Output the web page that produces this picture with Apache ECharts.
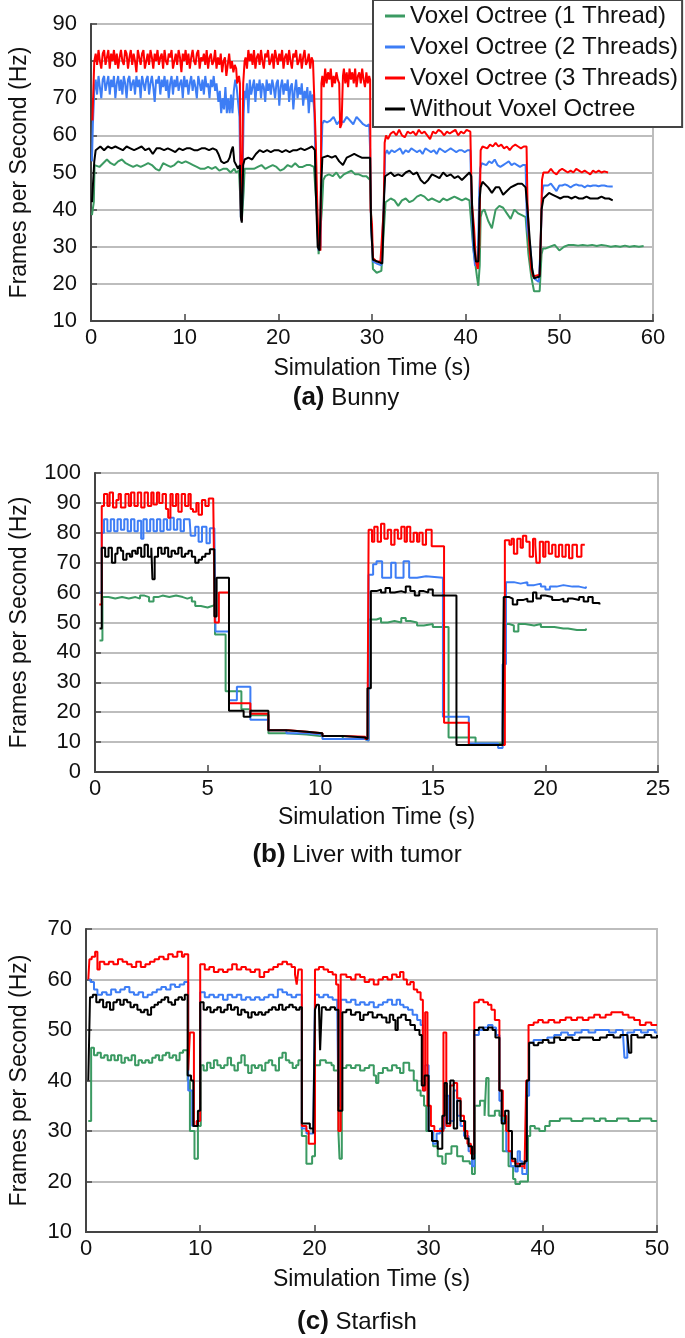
<!DOCTYPE html>
<html><head><meta charset="utf-8">
<script src="https://cdn.jsdelivr.net/npm/echarts@6/dist/echarts.min.js"></script>
<style>html,body{margin:0;padding:0;background:#fff}#c{width:685px;height:1338px}</style>
</head><body><div id="c"></div>
<script>
// ---- data: points are [time, fps]; runs are [startTime, step, [fps values]] ----
const seriesNames = ['Voxel Octree (1 Thread)','Voxel Octree (2 Threads)','Voxel Octree (3 Threads)','Without Voxel Octree'];
const panelTitles = [['(a)','Bunny'],['(b)','Liver with tumor'],['(c)','Starfish']];

// (a) Bunny
const bunny1T = [[0.1,38.5],[0.25,38.5],[0.3,42],[0.38,52],[0.5,0.4,[52,51.5,52.5,53.5,52.5,52,53,53.5,52.5,52,51.5,52,51.5,52,52.5,52,51,50.5,52.5,52,51.5,52,53,52.5,53,52.5,52,51.5,51,51,51.5,51,51.5,50.5,51,51,50,51]],[15.5,50],[15.8,50.5],[16.0,40],[16.1,37],[16.3,45],[16.4,51],[16.6,0.4,[50.5,51,51,51.5,52,51,51.5,52,51.5,50.5,51,52,51.5,52.5,51.5,51.5,52,52,51.5]],[23.95,51],[24.1,40],[24.3,28],[24.5,27.5],[24.65,40],[24.8,48],[25.0,0.4,[49,49.5,49,50,48.5,49.5,50,50.5,49.5,49.5,49,49]],[29.8,48],[29.95,35],[30.1,24],[30.5,23],[31.0,23.5],[31.2,23],[31.3,36],[31.45,42],[31.6,0.4,[42,43,42.5,41,42.5,43,42,42.5,43.5,44,43.5,42.5,43,42.5,42,43,42.5,43,43.5,43,42.5,43,42.5]],[40.6,42],[40.8,30],[41.2,22],[41.35,19.5],[41.5,25],[41.6,38],[41.75,39.5],[42.0,0.4,[40,37,35,40,41,40.5,39,37.5,40,39,38.5,38]],[46.5,38],[46.7,28],[47.0,22],[47.3,18],[47.9,18],[48.1,28],[48.25,29.5],[48.5,0.5,[29.5,30,30.5,29,30,30.5,30.5,30.3,30.5,30.3,30.5,30.2,30.5,30.3,30,30.2,30,30.3,30,30.2,30,30.2]]];
const bunny2T = [[0.1,53],[0.2,63],[0.35,72],[0.5,0.15,[75,71,76,73,70,75,76,72,74,76,71,75,73,76,70,74,76,72,75,71,76,74,70,75,76,72,74,75,71,76,73,75,70,76,74,72,75,76,71,74,76,73,69,75,74,76,71,75,73,76,72,75,70,74,76,71,75,73,76,72,74,75,70,76,73,75,71,74,76,72,75,73,70,76,74,72,75,71,76,73,74,70,75,73,76,72,74]],[13.6,69],[13.75,72],[13.9,66],[14.05,70],[14.2,67],[14.35,73],[14.5,66],[14.65,70],[14.8,66],[14.95,71],[15.1,66],[15.25,72],[15.4,75],[15.55,73],[15.7,69],[15.85,65],[16.0,38],[16.1,37],[16.3,66],[16.4,72],[16.5,0.15,[70,74,66,75,71,73,75,69,74,72,75,70,74,73,69,75,72,74,71,75,73,70,74,75,68,73,75,71,74,72,75,69,73,74,67,72,75,70,73,71,74,68,72,70,73,66,72,69,71]],[23.85,66],[24.0,50],[24.15,36],[24.3,29],[24.5,30],[24.6,55],[24.7,63],[24.85,0.35,[64,63.5,64,65,63,64,63.5,65,64,63,65,64,63,62.5]],[29.7,63],[29.8,56],[29.9,36],[30.1,26],[30.5,25.5],[31.0,25],[31.2,24.5],[31.3,45],[31.4,55],[31.6,56],[31.8,0.3,[55,56,55.5,56,56.5,55,56,55.5,56.5,56,55.5,56,55,56.5,56,55.5,56,55,56.5,56,55.5,56,56.5,56,55.5,56,56,55.5,56]],[40.5,56],[40.6,44],[40.8,30],[41.0,25],[41.3,25],[41.45,45],[41.55,51],[41.7,52.5],[41.9,0.3,[52.5,52,53,52.5,53.5,52,51.5,52,52.5,53,52,52.5,52,51.5,52]],[46.4,52],[46.55,35],[46.9,30],[47.1,24],[47.3,21.5],[47.8,20.5],[48.0,30],[48.15,44],[48.3,46.5],[48.5,0.3,[47,46.5,47,46,45,46.5,46.5,46.8,46.5,46,46.5,46.8,46.5,46.5,46,46.5,46.3,46.5,46.5,46.3,46.5,46.5,46.3,46.2]],[55.7,46.2]];
const bunny3T = [[0.15,64],[0.35,80],[0.5,0.15,[82,79,83,80,78,82,83,79,81,83,78,82,80,83,79,82,78,81,83,80,79,83,82,78,81,83,79,82,80,77,83,81,79,82,83,78,80,82,79,83,81,78,82,80,83,79,81,82,78,83,80,79,82,81,83,78,80,82,79,83,81,77,82,80,83,79,82,78,81,83,80,79,82,83,78,81,80,82,79,83,78,81,82,79,80,83,78,81,79,82,77,80,81,76,79,82,78,80,77,79,78]],[15.6,74],[15.8,76],[15.9,74],[16.0,40],[16.1,37],[16.25,74],[16.4,80],[16.5,0.15,[81,78,83,80,82,79,83,78,81,82,79,83,80,78,82,81,83,79,80,82,78,83,81,79,82,80,83,78,81,82,79,83,80,78,82,81,83,79,80,82,78,81,83,79,80,82,78,81,80]],[23.85,80],[24.0,58],[24.15,42],[24.3,30],[24.5,29],[24.6,74],[24.7,0.15,[76,73,78,74,77,75,78,73,76,74,77,75,74]],[26.6,62],[26.75,63],[26.9,76],[27.0,0.15,[78,74,77,73,78,75,77,74,78,73,76,77,74,78,75,73,77,74,76]],[29.8,75],[29.85,40],[30.0,36],[30.1,27],[30.5,26],[30.9,26],[31.1,25.5],[31.25,40],[31.35,58],[31.5,60],[31.7,0.3,[59,60.5,61,60,61.5,60,59.5,61,60.5,61,60,61.5,60.5,61,60,59,61,60.5,61.5,61,60,61,60.5,61,61.5,60,61,60.5,61.5]],[40.5,61],[40.65,42],[40.9,35],[41.1,26],[41.3,24],[41.45,30],[41.6,56],[41.8,57],[42.0,0.3,[57,56.5,57.5,57,58,57,57.5,56.5,57,56,57,57.5,57,56.5,57]],[46.5,57],[46.6,42],[46.8,30],[47.0,24],[47.2,22],[47.9,22.5],[48.05,35],[48.15,48],[48.3,50],[48.5,0.3,[50.5,50,51,50,49.5,50.5,51,50.5,50,50.5,50,51,50.5,50,50.5,50,49.5,50.5,50,50.5,50,50.3]],[55.2,50]];
const bunnyNo = [[0.1,42],[0.25,42],[0.35,53],[0.5,56],[0.6,0.4,[56.5,57,56,57,56.5,57,56.5,56,57,56.5,56,56.5,57,56,56.5,55,56.5,56.5,56,56.5,56,55.5,56.5,56,56.5,56.5,56,56,56.5,56.5,56,56.5,56]],[13.6,55],[13.9,53],[14.2,52.5],[14.4,52],[14.6,53],[14.8,54],[15.0,56],[15.15,57],[15.3,53],[15.5,52],[15.7,51],[15.9,52],[16.0,38],[16.1,36.5],[16.25,52],[16.4,53.5],[16.6,53],[16.8,0.4,[54,53.5,55,56,55.5,56,55.5,56,56,55.5,56,55.5,56,56,56.5,56,56.5,57]],[23.9,56],[24.0,45],[24.2,30],[24.4,29],[24.55,45],[24.7,54],[24.9,0.4,[54.5,54.5,54,54.5,53,52,54,54.5,55,54.5,54,54]],[29.8,54],[29.9,36],[30.1,26.5],[30.6,26],[31.1,25.5],[31.3,44],[31.4,49],[31.6,0.4,[49,50,49,49.5,49,50,50.5,49.5,50,48,47,48,49.5,49,48.5,50,49,49.5,48.5,49,48,49,50]],[40.6,49],[40.7,40],[40.9,30],[41.1,26],[41.35,26],[41.5,43],[41.6,46],[41.8,47.5],[42.0,0.4,[47,46,44.5,46,46,44,45,46,46.5,47,47,46]],[46.5,46.5],[46.6,40],[46.9,30],[47.1,24],[47.3,21.5],[47.9,22],[48.1,40],[48.3,43],[48.5,0.4,[43,44.5,44,43.5,43,43.5,43.5,43,43.5,43,43,43.5,43,43,43,43.5,43,43,42.5]]];

// (b) Liver with tumor
const liver1T = [[0.2,44],[0.33,58.5],[0.6,58],[0.9,58.5],[1.2,58],[1.5,58.5],[1.8,58],[2.0,59],[2.2,58.5],[2.4,57],[2.6,58.5],[2.8,59],[3.0,58.5],[3.3,59],[3.6,58.5],[3.9,58],[4.1,58.5],[4.3,57],[4.45,55.5],[4.7,55],[5.0,55.5],[5.2,56],[5.33,46],[5.8,27],[6.5,21],[6.9,19],[7.7,13],[8.5,12.5],[9.4,12],[10.0,12],[11.0,11],[12.0,10.5],[12.15,51],[12.5,51.5],[12.7,50],[13.0,50.5],[13.3,50],[13.6,51.5],[13.8,50.5],[14.0,50],[14.3,49],[14.6,49.5],[15.0,48.5],[15.7,11.5],[16.9,9.5],[18.0,9.5],[18.15,49.5],[18.4,49],[18.6,47],[18.8,49.5],[19.1,49],[19.5,49.5],[19.8,48.5],[20.1,48.5],[20.4,48],[20.8,48],[21.0,47.5],[21.4,47.5],[21.8,48]];
const liver2T = [[0.2,60],[0.3,80],[0.4,84.5],[0.55,80.5],[0.7,84.5],[0.85,80.5],[1.0,84.5],[1.15,81],[1.3,84.5],[1.45,80.5],[1.6,84.5],[1.75,80.5],[1.9,84],[2.05,78],[2.15,84.5],[2.3,80.5],[2.45,84.5],[2.6,80.5],[2.75,84.5],[2.9,80.5],[3.05,84.5],[3.2,81],[3.35,85],[3.5,81],[3.65,84.5],[3.8,80.5],[3.95,84.5],[4.2,84],[4.25,79],[4.45,82],[4.6,77],[4.75,82],[4.95,76.5],[5.1,81.5],[5.3,81],[5.35,47],[5.85,47],[5.95,24],[6.3,28.5],[6.9,17.5],[7.7,14],[8.5,13],[9.4,12.5],[10.1,11],[11.0,11],[12.0,10.5],[12.15,66],[12.35,69.5],[12.5,70.5],[12.75,65],[13.0,65],[13.15,70],[13.35,65],[13.7,70.5],[13.95,65],[14.3,65.5],[14.7,65],[15.45,18.5],[16.6,9.5],[17.9,8],[18.1,36],[18.25,63.5],[18.6,63],[18.9,63.5],[19.2,62.5],[19.5,63],[19.8,62],[20.0,61],[20.2,62],[20.5,62.5],[20.8,62],[21.2,62],[21.5,61.5],[21.8,62]];
const liver3T = [[0.19,56],[0.3,89],[0.4,93],[0.55,89],[0.65,93.5],[0.8,88.5],[0.95,91],[1.05,93],[1.15,88.5],[1.35,93],[1.5,89],[1.6,93.5],[1.75,89],[1.9,93.5],[2.05,88.5],[2.2,93.5],[2.35,89],[2.5,93.5],[2.6,89.5],[2.75,93.5],[2.85,90],[3.0,93],[3.15,88],[3.25,85],[3.35,93],[3.45,89],[3.6,93],[3.7,87],[3.85,93],[4.0,89],[4.15,93],[4.25,88],[4.35,87],[4.5,90],[4.6,86],[4.75,91],[4.9,89],[5.05,91.5],[5.25,91],[5.32,50],[5.5,60],[5.95,23],[6.9,19.5],[7.7,14],[8.6,13.5],[9.4,13],[10.1,12],[11.0,11.8],[12.0,11],[12.1,10.5],[12.15,81],[12.3,77],[12.4,82],[12.55,77],[12.7,83],[12.85,78],[13.0,81],[13.15,76],[13.3,81],[13.45,78],[13.6,82],[13.75,77],[13.85,82],[14.0,77],[14.15,80],[14.3,77],[14.4,80],[14.55,76],[14.7,81],[14.95,75.5],[15.5,16.5],[16.6,9],[18.0,9],[18.2,77.5],[18.4,76],[18.5,78],[18.6,73],[18.75,78],[18.9,75],[19.0,79],[19.15,77],[19.3,72],[19.45,78],[19.55,76],[19.6,70],[19.75,77],[19.9,72],[20.0,77],[20.15,73],[20.3,76],[20.45,72],[20.6,76],[20.75,72],[20.9,76],[21.05,71.5],[21.2,76],[21.4,72],[21.6,76],[21.75,76]];
const liverNo = [[0.2,48],[0.3,75],[0.45,72],[0.6,75],[0.75,70],[0.9,73],[1.0,75],[1.15,74],[1.25,71],[1.4,73],[1.55,72],[1.65,74],[1.8,73],[1.9,75],[2.05,72],[2.2,76],[2.35,72],[2.5,75],[2.55,64.5],[2.65,72],[2.8,75],[2.95,73],[3.1,75],[3.25,72],[3.4,74],[3.55,73],[3.7,75],[3.85,72],[4.0,73],[4.15,74],[4.3,72],[4.45,70],[4.6,71],[4.75,72],[4.9,73],[5.1,74.5],[5.3,52],[5.4,65],[5.95,20.5],[6.6,18.5],[6.9,20.5],[7.7,14],[8.5,13.5],[9.4,13],[10.1,12],[11.0,11.5],[12.0,11],[12.1,28],[12.25,60.5],[12.5,61],[12.7,60],[12.9,61.5],[13.1,60],[13.3,60.5],[13.6,60],[13.8,62],[14.0,60.5],[14.2,59],[14.4,60.5],[14.6,60],[14.8,61],[15.0,59],[16.05,9],[18.0,9],[18.1,14],[18.15,58.5],[18.4,58],[18.55,56],[18.75,57.5],[19.0,58],[19.2,57],[19.45,60],[19.6,58],[19.8,59],[20.0,58.5],[20.3,57.5],[20.6,58],[20.8,57],[21.0,58],[21.2,57.5],[21.5,58.5],[21.7,57],[21.9,58.5],[22.1,56.5],[22.4,56]];

// (c) Starfish
const star1T = [[0.2,32],[0.45,46.5],[0.7,45],[1.0,45.5],[1.3,44.5],[1.6,45],[1.9,44],[2.2,45],[2.5,44],[2.8,45],[3.1,43.5],[3.4,44.5],[3.7,44],[4.0,45],[4.3,43],[4.6,44],[4.9,43.5],[5.2,44],[5.5,43.5],[5.8,44.5],[6.1,45],[6.4,44],[6.7,45],[7.0,45.5],[7.3,44.5],[7.6,45],[7.9,44],[8.2,45.5],[8.5,46],[8.9,40],[9.1,30],[9.5,24.5],[9.8,31],[10.05,43],[10.3,42],[10.6,43.5],[10.9,42.5],[11.2,44],[11.5,43],[11.8,42.5],[12.1,43],[12.4,44.5],[12.7,43],[13.0,42],[13.3,43.5],[13.6,45],[13.9,43],[14.2,41.5],[14.5,43],[14.8,42.5],[15.1,43],[15.4,42],[15.7,43.5],[16.0,44],[16.3,43],[16.6,42],[16.9,44.5],[17.2,45.5],[17.5,44],[17.8,43.5],[18.1,42.5],[18.4,43],[18.6,44],[18.9,29],[19.3,23.5],[19.8,25],[20.05,43],[20.5,44],[21.0,43.5],[21.5,43],[21.7,42],[22.1,30],[22.2,24.5],[22.4,42.5],[22.8,43],[23.2,42.5],[23.6,43],[24.0,42],[24.4,42.5],[24.8,43],[25.2,41],[25.4,39.5],[25.6,41.5],[26.0,42.5],[26.4,42],[26.8,43],[27.2,42.5],[27.5,41.5],[27.8,43.5],[28.3,42],[28.7,40],[29.0,38],[29.3,37],[29.6,35],[29.8,30],[30.4,27],[30.8,25],[31.2,23.5],[31.5,25.5],[32.0,27],[32.5,25],[33.0,24],[33.6,23.5],[33.8,21.5],[34.05,35],[34.5,36],[34.9,33],[35.05,40.5],[35.25,33],[35.8,34],[36.2,33],[36.5,26],[37.0,23],[37.4,20.5],[37.6,19.5],[38.0,20],[38.7,29],[38.9,31],[39.3,30.5],[39.7,30],[40.2,31],[40.6,32],[41.5,32.5],[42.5,32],[43.5,32.5],[44.5,32],[45.0,32.5],[45.5,32],[46.5,32.5],[47.5,32],[48.5,32.5],[49.5,32],[50.0,32]];
const star2T = [[0.2,60],[0.4,59.5],[0.7,58],[1.0,57],[1.4,57.5],[1.8,57],[2.2,58],[2.6,57.5],[3.0,58],[3.4,58.5],[3.8,57.5],[4.2,57],[4.6,57.5],[5.0,56.5],[5.4,57],[5.8,57.5],[6.2,58],[6.6,58.5],[7.0,58],[7.4,59],[7.8,58.5],[8.2,59],[8.6,59.5],[8.95,38],[9.3,31],[9.7,32],[10.0,57.5],[10.4,56.5],[10.8,57],[11.2,56.5],[11.6,57],[12.0,56],[12.4,57],[12.8,56.5],[13.2,57],[13.6,56],[14.0,56.5],[14.4,56],[14.8,56.5],[15.2,56],[15.6,56.5],[16.0,57],[16.4,56.5],[16.8,58],[17.2,57.5],[17.6,57],[18.0,56.5],[18.4,57],[18.6,57],[18.9,30.5],[19.3,29.5],[19.9,30],[20.05,57],[20.4,56.5],[20.8,57],[21.2,56.5],[21.6,56],[22.0,55],[22.1,35],[22.3,56],[22.8,55.5],[23.2,56],[23.6,55],[24.0,55.5],[24.4,55],[24.8,55.5],[25.2,54.5],[25.6,55],[26.0,55.5],[26.4,56],[26.8,55],[27.2,56],[27.5,55],[27.8,54.5],[28.2,54],[28.6,53],[29.0,52],[29.3,51],[29.5,38],[29.7,43],[30.0,30],[30.4,27.5],[30.7,29.5],[31.0,30.5],[31.4,37],[31.8,32],[32.2,38],[32.5,33],[32.8,31],[33.1,29],[33.5,26],[33.8,23],[34.0,49],[34.4,50],[34.8,50.5],[35.2,51],[35.6,50.5],[35.9,49],[36.2,36],[36.4,32],[36.8,26],[37.2,23],[37.6,22],[37.8,26],[38.0,24],[38.2,21.5],[38.6,37],[38.8,47.5],[39.2,48],[39.8,48],[40.4,48.5],[41.0,49],[41.6,49.5],[42.2,49],[42.8,49.5],[43.4,50],[44.0,49.5],[44.6,50],[45.2,50],[45.8,49.5],[46.4,50],[47.0,50],[47.15,44.5],[47.4,49.5],[48.0,50],[48.6,49.5],[49.2,50],[49.8,49.5],[50.0,49.5]];
const star3T = [[0.2,60],[0.3,64],[0.5,64.5],[0.8,65.5],[1.0,62],[1.2,63.5],[1.6,63],[2.0,63.5],[2.4,63],[2.8,64],[3.2,63.5],[3.6,63],[4.0,62.5],[4.4,63.5],[4.8,62.5],[5.2,63],[5.6,63.5],[6.0,64],[6.4,64.5],[6.8,64],[7.2,65],[7.6,64.5],[8.0,65.5],[8.4,64.5],[8.6,65],[8.95,42],[9.1,49.5],[9.45,31],[9.7,32],[10.0,63],[10.4,62],[10.8,62.5],[11.2,61.5],[11.6,62],[12.0,61.5],[12.4,62],[12.8,63],[13.2,62],[13.6,62.5],[14.0,62],[14.4,61.5],[14.8,62],[15.2,60.5],[15.6,61.5],[16.0,62],[16.4,62.5],[16.8,63],[17.2,63.5],[17.6,63],[18.0,62.5],[18.3,61],[18.45,59],[18.6,62],[18.9,31],[19.3,30],[19.5,27.5],[20.05,62],[20.4,62.5],[20.8,62],[21.2,61.5],[21.6,61],[21.9,59],[22.1,30],[22.3,61],[22.8,60.5],[23.2,60],[23.6,61],[24.0,60.5],[24.4,59.5],[24.8,60],[25.2,59],[25.6,60],[26.0,60.5],[26.4,60],[26.8,61],[27.2,60.5],[27.5,61.5],[27.8,60],[28.1,59],[28.4,59.5],[28.7,58],[29.0,57.5],[29.3,56],[29.5,38],[29.7,53.5],[29.9,35],[30.2,31],[30.5,30],[31.3,49.5],[31.55,31],[31.9,39],[32.2,39.5],[32.5,36.5],[32.8,33],[33.1,30],[33.4,27.5],[33.7,25.5],[34.0,55.5],[34.4,56],[34.8,55.5],[35.2,55],[35.5,54],[35.8,52],[36.2,38],[36.5,33],[36.8,30],[37.0,26],[37.3,24],[37.6,23.5],[38.0,23],[38.4,22.5],[38.55,40],[38.75,51],[39.2,51.5],[39.6,52],[40.0,51.5],[40.5,52],[41.0,51.5],[41.5,52],[42.0,52.5],[42.5,52],[43.0,52.5],[43.5,52],[44.0,52.5],[44.5,53],[45.0,52.5],[45.5,53],[46.0,53.5],[46.5,53.5],[47.0,53],[47.5,52.5],[48.0,52],[48.5,51],[49.0,51.5],[49.5,51],[50.0,51]];
const starNo = [[0.2,40],[0.35,56.5],[0.6,57],[0.9,55.5],[1.2,56],[1.5,54.5],[1.8,55.5],[2.1,54],[2.4,55.5],[2.7,56],[3.0,55],[3.3,56],[3.6,55.5],[3.9,54.5],[4.2,55],[4.5,54],[4.8,53.5],[5.1,54],[5.4,53],[5.7,54.5],[6.0,55],[6.3,55.5],[6.6,56],[6.9,56.5],[7.2,55.5],[7.5,55],[7.8,56],[8.1,56.5],[8.4,56],[8.65,57],[8.9,41],[9.2,40],[9.4,31],[9.8,34],[10.0,55.5],[10.3,54],[10.6,54.5],[10.9,53.5],[11.2,54],[11.5,54.5],[11.8,53.5],[12.1,54],[12.4,55],[12.7,54],[13.0,54.5],[13.3,53],[13.6,54],[13.9,53.5],[14.2,52.5],[14.5,53.5],[14.8,53],[15.1,53.5],[15.4,53],[15.7,53.5],[16.0,54],[16.3,54.5],[16.6,54],[16.9,55],[17.2,54],[17.5,54.5],[17.8,55],[18.1,54.5],[18.4,54],[18.7,54.5],[18.9,31.5],[19.6,30.5],[19.9,29.5],[20.05,54],[20.2,55],[20.4,54.5],[20.5,46],[20.65,54.5],[21.0,54],[21.4,54.5],[21.8,54],[22.1,34],[22.45,53.5],[22.8,54],[23.2,53],[23.6,53.5],[24.0,52],[24.3,53],[24.7,53.5],[25.1,52.5],[25.5,53],[25.9,52.5],[26.3,51.5],[26.6,53],[26.9,52],[27.1,50],[27.3,52.5],[27.6,53],[28.0,52],[28.4,51],[28.8,50],[29.2,49],[29.4,39],[29.65,41],[30.0,30],[30.3,28],[30.8,26.5],[31.2,33],[31.4,39.5],[31.6,31.5],[31.9,40],[32.2,30.5],[32.5,36],[32.8,32],[33.2,28.5],[33.5,27],[33.8,24.5],[34.0,50],[34.4,50.5],[34.8,50],[35.2,50.5],[35.6,50],[35.85,48.5],[36.2,38],[36.4,31.5],[36.7,34],[37.0,30],[37.3,24.5],[37.6,23],[38.0,23.5],[38.4,24],[38.6,40],[38.8,47.5],[39.2,47],[39.6,47.5],[40.0,48],[40.5,47.5],[41.0,48.5],[41.5,48],[42.0,48.5],[42.6,48],[43.2,48.5],[43.8,48.5],[44.4,48],[45.0,48.5],[45.6,49],[46.2,48.5],[46.8,49],[47.4,49],[47.55,45.5],[47.75,49],[48.3,48.5],[48.9,49],[49.5,48.5],[50.0,49]];

// axis ranges [xMin, xMax, xInterval, yMin, yMax, yInterval]
const axisRanges = [[0,60,10,10,90,10],[0,25,5,0,100,10],[0,50,10,10,70,10]];

// ---- rendering ----
const FONT = '"Liberation Sans", Arial, sans-serif';
const COLORS = ['#3b9a62','#3d7df5','#ff0000','#000000'];
const grids = [
  {left:90, top:24, width:563, height:297},
  {left:93, top:473, width:565, height:299},
  {left:86, top:929, width:571, height:303}
];
const yNameGap = [60, 64, 55];
const xNameGap = [36, 34, 36];
const titleY = [398, 855, 1322];
const titleX = [346, 357, 357];
const panelData = [
  [bunny1T, bunny2T, bunny3T, bunnyNo],
  [liver1T, liver2T, liver3T, liverNo],
  [star1T, star2T, star3T, starNo]
];
function expand(arr){
  const out = [];
  arr.forEach(e => {
    if (e.length === 3) { const [t0, dt, vals] = e; vals.forEach((v,i)=>out.push([+(t0+i*dt).toFixed(3), v])); }
    else out.push(e);
  });
  return out;
}
const axisColor = '#444';
const xAxes = [], yAxes = [], series = [];
grids.forEach((g,i)=>{
  const r = axisRanges[i];
  xAxes.push({gridIndex:i, type:'value', min:r[0], max:r[1], interval:r[2],
    axisLine:{show:true, onZero:false, lineStyle:{color:axisColor, width:2}},
    axisTick:{show:true, inside:true, length:7, lineStyle:{color:axisColor, width:1.5}},
    axisLabel:{fontSize:22, color:'#111', margin:6, fontFamily:FONT},
    splitLine:{show:false},
    name:'Simulation Time (s)', nameLocation:'middle', nameGap:xNameGap[i],
    nameTextStyle:{fontSize:23, color:'#111', fontFamily:FONT}});
  yAxes.push({gridIndex:i, type:'value', min:r[3], max:r[4], interval:r[5],
    axisLine:{show:true, lineStyle:{color:axisColor, width:2}},
    axisTick:{show:true, inside:true, length:6, lineStyle:{color:axisColor, width:1.5}},
    axisLabel:{fontSize:22, color:'#111', margin:14, fontFamily:FONT},
    splitLine:{show:true, lineStyle:{color:'#bdbdbd', width:2}},
    name:'Frames per Second (Hz)', nameLocation:'middle', nameGap:yNameGap[i],
    nameTextStyle:{fontSize:23, color:'#111', fontFamily:FONT}});
  panelData[i].forEach((d,k)=>{
    series.push({name:seriesNames[k], type:'line', xAxisIndex:i, yAxisIndex:i,
      data:expand(d), showSymbol:false, symbol:'none', step: i===0 ? false : 'end',
      lineStyle:{color:COLORS[k], width:2}, itemStyle:{color:COLORS[k]},
      z: 2+k, animation:false});
  });
});
const graphics = panelTitles.map((t,i)=>({
  type:'text', x:titleX[i], y:titleY[i],
  style:{text:'{b|'+t[0]+'} '+t[1], fontSize:24, fontFamily:FONT, fill:'#111',
    align:'center', verticalAlign:'middle',
    rich:{b:{fontSize:26, fontWeight:'bold', fontFamily:FONT, fill:'#111'}}}
}));
const chart = echarts.init(document.getElementById('c'), null, {renderer:'canvas'});
chart.setOption({
  backgroundColor:'#fff',
  animation:false,
  grid: grids.map(g=>Object.assign({show:true, borderColor:'#bdbdbd', borderWidth:2, backgroundColor:'transparent'}, g)),
  xAxis:xAxes, yAxis:yAxes, series:series,
  legend:{data:seriesNames, orient:'vertical', left:373, top:0, icon:'rect', itemWidth:20, itemHeight:3,
    itemGap:7, padding:[4,4,6,12], backgroundColor:'#fff', borderColor:'#444', borderWidth:2,
    textStyle:{fontSize:24, color:'#111', fontFamily:FONT}, z:20},
  graphic:graphics
});
</script></body></html>
